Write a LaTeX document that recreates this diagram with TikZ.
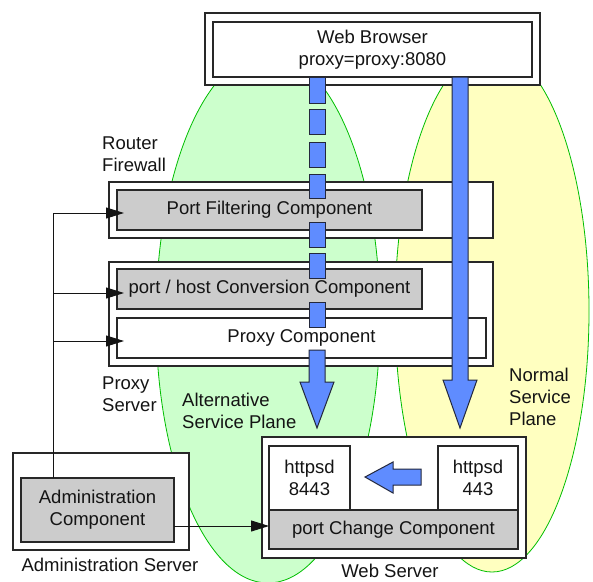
\documentclass[tikz,border=0pt]{standalone}
\usepackage{fontspec}
\setmainfont{Liberation Sans}
\usetikzlibrary{arrows.meta,calc}
\definecolor{bluefill}{RGB}{95,140,255}
\definecolor{blueedge}{RGB}{35,40,60}
\definecolor{greenfill}{RGB}{204,255,204}
\definecolor{greenedge}{RGB}{0,190,0}
\definecolor{yellowfill}{RGB}{255,255,192}
\definecolor{grayfill}{RGB}{204,204,204}
\definecolor{edge}{RGB}{40,40,40}
\definecolor{txt}{RGB}{20,20,20}
\begin{document}
\begin{tikzpicture}[x=1pt,y=-1pt,
  every node/.style={font=\fontsize{18.5}{22}\selectfont, text=txt},
  box/.style={draw=edge, line width=1.2pt, fill=white, inner sep=0pt, outer sep=0pt, align=center},
  graybox/.style={box, fill=grayfill},
  lbl/.style={align=left, inner sep=0pt, anchor=west},
  conn/.style={draw=txt, line width=1pt, -{Triangle[length=18pt,width=11pt]}},
  bluearrow/.style={fill=bluefill, draw=blueedge, line width=1pt},
  plane/.style={draw=greenedge, line width=0.8pt}
]
\useasboundingbox (0,0) rectangle (593,581);
\fill[white] (0,0) rectangle (593,581);

% service planes
\draw[plane, fill=yellowfill] (492,311) ellipse [x radius=97, y radius=261];
\draw[plane, fill=greenfill] (268,318) ellipse [x radius=112, y radius=265];

% web browser
\node[box, minimum width=335pt, minimum height=72pt] (browserOuter) at (372.5,49) {};
\node[box, minimum width=319pt, minimum height=55pt] (browser) at (372.5,49.5) {Web Browser\\proxy=proxy:8080};

% router firewall
\node[box, minimum width=384pt, minimum height=56pt] (router) at (301,210) {};
\node[graybox, minimum width=305pt, minimum height=40pt] (pf) at (269.5,210) {Port Filtering Component};
\node[lbl] (routerLbl) at (102,154) {Router\\Firewall};

% proxy server
\node[box, minimum width=384pt, minimum height=104pt] (proxy) at (301,314) {};
\node[graybox, minimum width=305pt, minimum height=40pt] (conv) at (269.5,289) {port / host Conversion Component};
\node[box, minimum width=369pt, minimum height=40pt] (pc) at (301.5,338) {Proxy Component};
\node[lbl] (proxyLbl) at (102,394) {Proxy\\Server};

% plane labels
\node[lbl] (altLbl) at (182,410.5) {Alternative\\Service Plane};
\node[lbl] (normLbl) at (509,397) {Normal\\Service\\Plane};

% administration server
\node[box, minimum width=176pt, minimum height=97pt] (adminOuter) at (101,501.5) {};
\node[graybox, minimum width=153pt, minimum height=64pt] (admin) at (97.5,510) {Administration\\Component};
\node (adminLbl) at (110,565) {Administration Server};

% web server
\node[box, minimum width=264pt, minimum height=121pt] (webOuter) at (394,497.5) {};
\node[box, minimum width=81pt, minimum height=64pt] (h8443) at (309.5,478) {httpsd\\8443};
\node[box, minimum width=80pt, minimum height=64pt] (h443) at (478,478) {httpsd\\443};
\node[graybox, minimum width=249pt, minimum height=39pt] (change) at (393.5,529.5) {port Change Component};
\node (webLbl) at (390,571) {Web Server};

% administration connectors
\coordinate (b1) at (53,213);
\coordinate (b2) at (53,293);
\coordinate (b3) at (53,341);
\draw[draw=txt, line width=1pt] (admin.north -| b1) -- (b1);
\draw[conn] (b1) -- ([xshift=7pt]b1 -| pf.west);
\draw[conn] (b2) -- ([xshift=7pt]b2 -| conv.west);
\draw[conn] (b3) -- ([xshift=7pt]b3 -| pc.west);
\draw[conn] ([yshift=-16pt]admin.east) -- ([yshift=-16pt]admin.east -| change.west);

% alternative (dashed) blue arrow
\foreach \ya/\yb in {77/103,109/134,142/167,174/198,222/247,253/278,302/327}
  \draw[bluearrow] (309,\ya) rectangle (325,\yb);
\draw[bluearrow] (309,350) -- (325,350) -- (325,382) -- (334,382) -- (317,428)
  -- (300,382) -- (309,382) -- cycle;

% normal (solid) blue arrow
\draw[bluearrow] (452,77) -- (468,77) -- (468,380) -- (477,380) -- (460,428)
  -- (443,380) -- (452,380) -- cycle;

% port change arrow
\draw[bluearrow] (421,469) -- (421,485) -- (393,485) -- (393,493) -- (365,477)
  -- (393,462) -- (393,469) -- cycle;
\end{tikzpicture}
\end{document}
